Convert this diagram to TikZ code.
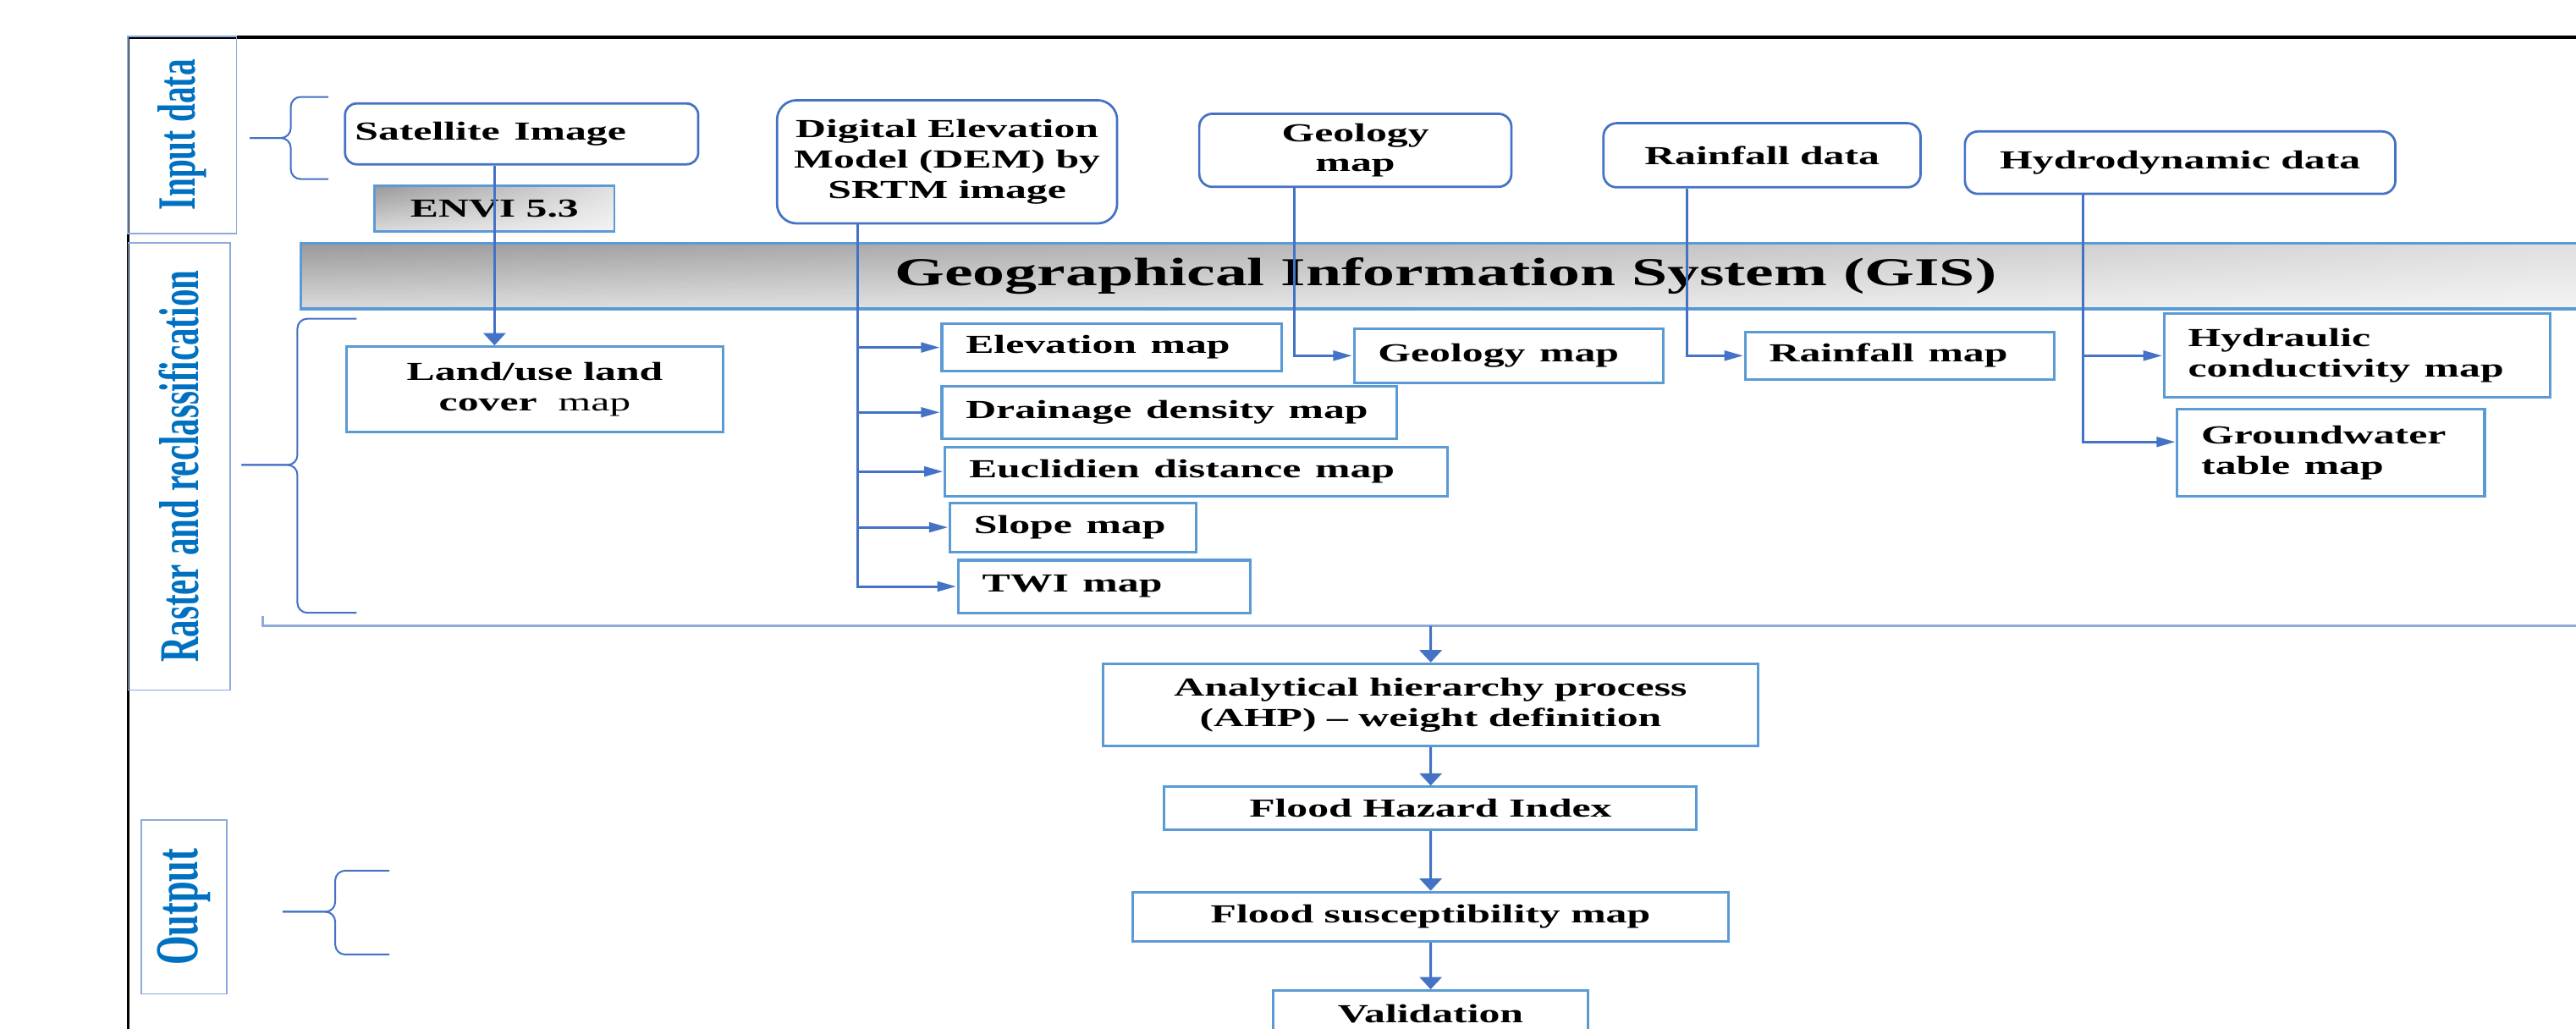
\documentclass[tikz,border=0pt]{standalone}
\usepackage{fontspec}
\setmainfont{Liberation Serif}
\usepackage{xcolor}
\usepackage{tikz}
\usetikzlibrary{arrows.meta, positioning, fadings}

\definecolor{lineblue}{HTML}{4472C4}
\definecolor{mapblue}{HTML}{5B9BD5}
\definecolor{labblue}{HTML}{0070C0}
\definecolor{frameblue}{HTML}{8EAADB}

\begin{document}
\begin{tikzpicture}[
    xscale=1.62, transform shape,
    boxfont/.style={font=\bfseries\fontsize{9}{10.5}\selectfont},
    inbox/.style={draw=lineblue, line width=0.8pt, rounded corners=#1, fill=white, align=center, boxfont},
    inbox/.default={0.14cm},
    mapbox/.style={draw=mapblue, line width=0.9pt, fill=white, text width=#1, align=left, inner xsep=0.18cm, inner ysep=0pt, boxfont},
    flowbox/.style={draw=mapblue, line width=0.9pt, fill=white, align=center, boxfont},
    metal/.style={draw=mapblue, top color=black!40, bottom color=black!14,
        path picture={\fill[white, opacity=0.7, path fading=west] (path picture bounding box.south west) rectangle (path picture bounding box.north east);}},
    sidelab/.style={draw=frameblue, line width=0.5pt, rotate=90, text=labblue, inner sep=0pt, font=\bfseries\fontsize{#1}{14}\selectfont},
    harrow/.style={draw=lineblue, line width=0.9pt, -{Triangle[length=0.23cm, width=0.12cm]}},
    varrow/.style={draw=lineblue, line width=0.9pt, -{Triangle[length=0.15cm, width=0.27cm]}},
    curly/.style={draw=lineblue, line width=0.6pt, rounded corners=0.12cm}
]
\useasboundingbox (0,0) rectangle (19.358,-12.52);
\clip (0,0) rectangle (19.358,-12.52);

% frame and stage labels
\draw[line width=1.1pt] (0.963,-12.7) -- (0.963,-0.45) -- (19.5,-0.45);
\node[sidelab=11.5, minimum width=2.40cm, minimum height=0.815cm] (lin) at (1.370,-1.64) {Input data};
\node[sidelab=12, minimum width=5.44cm, minimum height=0.765cm] (lras) at (1.346,-5.68) {Raster and reclassification};
\node[sidelab=13, minimum width=2.12cm, minimum height=0.642cm] (lout) at (1.383,-11.04) {Output};

% braces
\draw[curly] (2.469,-1.18) -- (2.185,-1.18) -- (2.185,-1.68) -- (1.877,-1.68);
\draw[curly] (1.877,-1.68) -- (2.185,-1.68) -- (2.185,-2.18) -- (2.469,-2.18);
\draw[curly] (2.679,-3.88) -- (2.235,-3.88) -- (2.235,-5.66) -- (1.815,-5.66);
\draw[curly] (1.815,-5.66) -- (2.235,-5.66) -- (2.235,-7.46) -- (2.679,-7.46);
\draw[curly] (2.926,-10.60) -- (2.519,-10.60) -- (2.519,-11.10) -- (2.123,-11.10);
\draw[curly] (2.123,-11.10) -- (2.519,-11.10) -- (2.519,-11.62) -- (2.926,-11.62);
\draw[draw=frameblue, line width=0.7pt] (1.975,-7.50) -- (1.975,-7.62) -- (19.5,-7.62);

% input data
\node[inbox, text width=2.506cm, align=left, inner xsep=0.074cm, minimum height=0.74cm] (sat) at (3.920,-1.63) {Satellite Image};
\node[metal, line width=0.8pt, minimum width=1.802cm, minimum height=0.56cm, boxfont] (envi) at (3.716,-2.54) {ENVI 5.3};
\node[inbox=0.24cm, minimum width=2.556cm, minimum height=1.50cm] (dem) at (7.117,-1.97) {Digital Elevation\\Model (DEM) by\\SRTM image};
\node[inbox=0.16cm, minimum width=2.346cm, minimum height=0.86cm] (geoin) at (10.185,-1.83) {Geology\\map};
\node[inbox=0.16cm, minimum width=2.383cm, minimum height=0.78cm] (rainin) at (13.241,-1.89) {Rainfall data};
\node[inbox=0.16cm, minimum width=3.235cm, minimum height=0.76cm] (hydin) at (16.383,-1.98) {Hydrodynamic data};

% GIS
\node[metal, line width=1pt, minimum width=17.21cm, minimum height=0.80cm, font=\bfseries\fontsize{13.7}{16}\selectfont] (gis) at (10.864,-3.36) {Geographical Information System (GIS)};

% raster layers
\node[flowbox, minimum width=2.827cm, minimum height=1.04cm] (lulc) at (4.019,-4.74) {Land/use land\\cover \ {\mdseries map}};
\node[mapbox=2.196cm, minimum height=0.58cm, anchor=west] (elev) at (7.062,-4.23) {Elevation map};
\node[mapbox=3.06cm, minimum height=0.64cm, anchor=west] (drain) at (7.062,-5.02) {Drainage density map};
\node[mapbox=3.418cm, minimum height=0.60cm, anchor=west] (eucl) at (7.086,-5.74) {Euclidien distance map};
\node[mapbox=1.492cm, minimum height=0.60cm, anchor=west] (slope) at (7.123,-6.42) {Slope map};
\node[mapbox=1.838cm, minimum height=0.64cm, anchor=west] (twi) at (7.185,-7.14) {TWI map};
\node[mapbox=1.961cm, minimum height=0.66cm, anchor=west] (geomap) at (10.160,-4.33) {Geology map};
\node[mapbox=1.961cm, minimum height=0.58cm, anchor=west] (rainmap) at (13.099,-4.33) {Rainfall map};
\node[mapbox=2.541cm, minimum height=1.02cm, anchor=west] (hydcon) at (16.247,-4.33) {Hydraulic\\conductivity map};
\node[mapbox=1.949cm, minimum height=1.06cm, anchor=west] (gwt) at (16.346,-5.51) {Groundwater\\table map};

% output chain
\node[flowbox, minimum width=4.926cm, minimum height=1.00cm] (ahp) at (10.75,-8.58) {Analytical hierarchy process\\(AHP) -- weight definition};
\node[flowbox, minimum width=4.0cm, minimum height=0.52cm] (fhi) at (10.75,-9.84) {Flood Hazard Index};
\node[flowbox, minimum width=4.482cm, minimum height=0.60cm] (fsm) at (10.75,-11.16) {Flood susceptibility map};
\node[flowbox, minimum width=2.370cm, minimum height=0.56cm] (valid) at (10.75,-12.34) {Validation};

% connectors
\coordinate (demx) at (6.444,0);
\coordinate (geox) at (9.728,0);
\coordinate (rainx) at (12.679,0);
\coordinate (hydx) at (15.654,0);
\coordinate (gisout) at (10.75,-7.62);

\draw[varrow] (sat.south -| envi) -- (lulc.north -| envi);
\draw[harrow] (dem.south -| demx) |- (elev.west);
\draw[harrow] (dem.south -| demx) |- (drain.west);
\draw[harrow] (dem.south -| demx) |- (eucl.west);
\draw[harrow] (dem.south -| demx) |- (slope.west);
\draw[harrow] (dem.south -| demx) |- (twi.west);
\draw[harrow] (geoin.south -| geox) |- (geomap.west);
\draw[harrow] (rainin.south -| rainx) |- (rainmap.west);
\draw[harrow] (hydin.south -| hydx) |- (hydcon.west);
\draw[harrow] (hydin.south -| hydx) |- ([yshift=0.13cm]gwt.west);
\draw[varrow] (gisout) -- (ahp);
\draw[varrow] (ahp) -- (fhi);
\draw[varrow] (fhi) -- (fsm);
\draw[varrow] (fsm) -- (valid);

\end{tikzpicture}
\end{document}
